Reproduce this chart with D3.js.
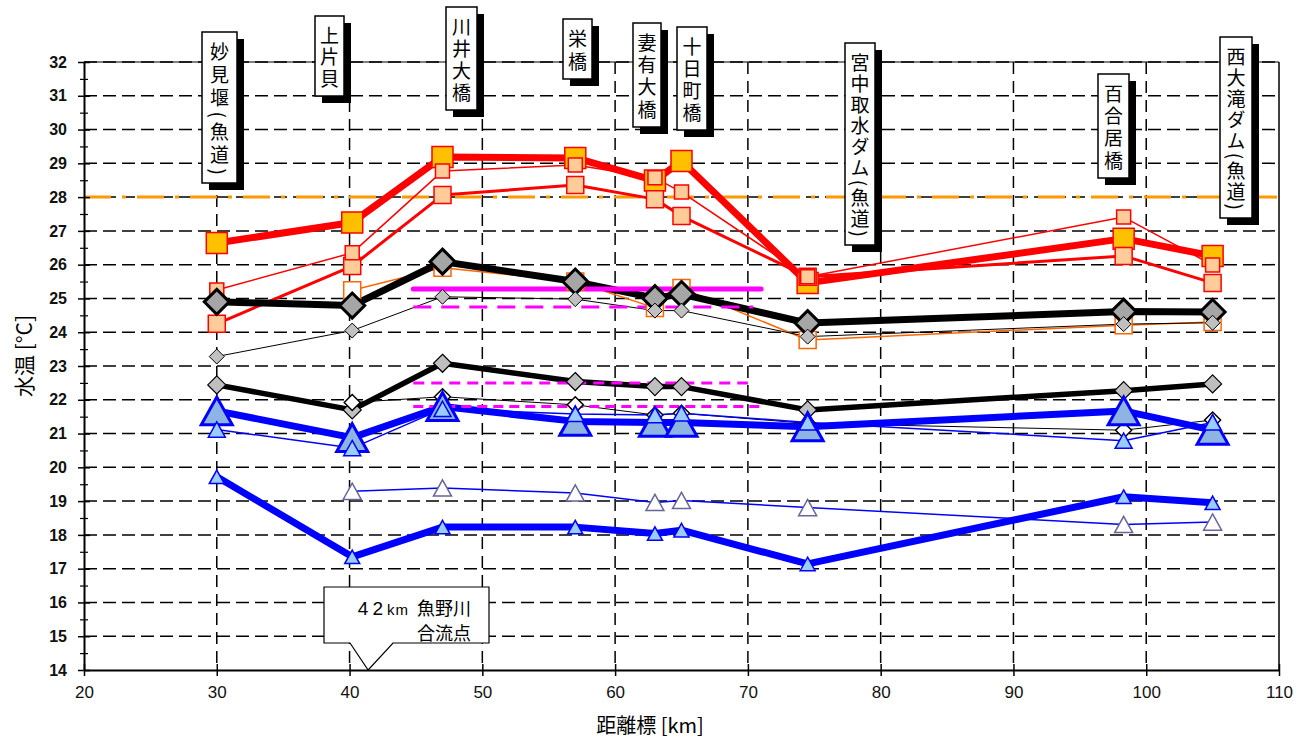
<!DOCTYPE html>
<html>
<head>
<meta charset="utf-8">
<script src="https://cdn.jsdelivr.net/npm/d3@7"></script>
<style>
body { margin: 0; background: #fff; }
text { font-family: "Liberation Sans", Arial, sans-serif; }
.jp { font-family: "Noto Sans CJK JP", sans-serif; }
</style>
</head>
<body>
<div id="main"></div>
<script>
// stations (km marks) along the river
var stationNames = ["妙見堰(魚道)", "上片貝", "川井大橋", "栄橋", "妻有大橋", "十日町橋", "宮中取水ダム(魚道)", "百合居橋", "西大滝ダム(魚道)"];
var stationKm = [30, 40.2, 47, 57, 63, 65, 74.5, 98.3, 105];

// water temperature series, one value per station (null = no data)
var redThick    = [26.64, 27.25, 29.19, 29.16, 28.49, 29.07, 25.46, 26.77, 26.26];
var redMedium   = [24.25, 25.96, 28.06, 28.36, 27.94, 27.44, 25.64, 26.26, 25.46];
var redThin     = [25.25, 26.35, 28.77, 28.95, 28.57, 28.15, 25.64, 27.41, 25.99];
var orangeThin  = [null, 25.24, 25.91, 25.5, 24.72, 25.31, 23.77, 24.21, 24.3];
var blackThick  = [24.9, 24.79, 26.09, 25.5, 25.01, 25.13, 24.27, 24.61, 24.6];
var blackThin   = [23.28, 24.05, 25.05, 24.98, 24.64, 24.64, 23.87, 24.24, 24.28];
var blackMedium = [22.44, 21.7, 23.08, 22.54, 22.39, 22.39, 21.7, 22.27, 22.47];
var blackWhite  = [null, 21.92, 22.09, 21.85, 21.55, 21.6, 21.3, 21.1, 21.4];
var blueThick   = [21.67, 20.88, 21.8, 21.36, 21.33, 21.33, 21.2, 21.67, 21.1];
var blueThin    = [21.12, 20.57, 21.73, 21.58, 21.55, 21.6, 21.33, 20.79, 21.33];
var blueWhite   = [null, 19.29, 19.39, 19.24, 18.96, 19.02, 18.81, 18.31, 18.38];
var blueLow     = [19.72, 17.35, 18.23, 18.23, 18.04, 18.14, 17.14, 19.13, 18.95];

// reference levels
var limitTemp = 28;
var magentaLevels = [25.28, 24.75, 22.5, 21.8];
var magentaFrom = [44.8, 44.8, 44.8, 44.8];
var magentaTo = [71, 70.4, 70, 71];

// axis ticks
var yTicks = d3.range(14, 33, 1);
var yMinorTicks = d3.range(14.5, 32, 1);
var xTicks = d3.range(20, 111, 10);

// label box layout (pixel placement of the callouts)
var boxLayout = [
    { left: 202, top: 32, right: 237, bottom: 183 },
    { left: 315, top: 16, right: 344, bottom: 96 },
    { left: 446, top: 7, right: 477, bottom: 110 },
    { left: 563, top: 19, right: 592, bottom: 79 },
    { left: 633, top: 23, right: 661, bottom: 127 },
    { left: 677, top: 27, right: 707, bottom: 130 },
    { left: 845, top: 43, right: 875, bottom: 245 },
    { left: 1098, top: 74, right: 1129, bottom: 178 },
    { left: 1220, top: 37, right: 1252, bottom: 218 }
];

var width = 1299, height = 742;

var svg = d3.select("#main")
    .append("svg")
    .attr("width", width)
    .attr("height", height);

var x = d3.scaleLinear().domain([20, 110]).range([84, 1279]);
var y = d3.scaleLinear().domain([14, 32]).range([670, 62]);

// horizontal gridlines
svg.append("g").selectAll("line")
    .data(yTicks.slice(1))
    .join("line")
    .attr("x1", x(20)).attr("x2", x(110))
    .attr("y1", function (d) { return y(d); })
    .attr("y2", function (d) { return y(d); })
    .attr("stroke", "#000")
    .attr("stroke-width", 1.5)
    .attr("stroke-dasharray", "13,6");

// vertical gridlines
svg.append("g").selectAll("line")
    .data(xTicks.slice(1, -1))
    .join("line")
    .attr("x1", function (d) { return x(d); })
    .attr("x2", function (d) { return x(d); })
    .attr("y1", y(32)).attr("y2", y(14))
    .attr("stroke", "#000")
    .attr("stroke-width", 1.5)
    .attr("stroke-dasharray", "12,7");

// top + right border
svg.append("line")
    .attr("x1", x(20)).attr("x2", x(110)).attr("y1", y(32)).attr("y2", y(32))
    .attr("stroke", "#000").attr("stroke-width", 1);
svg.append("line")
    .attr("x1", x(110)).attr("x2", x(110)).attr("y1", y(32)).attr("y2", y(14))
    .attr("stroke", "#000").attr("stroke-width", 1.5);

// 28 degree line
svg.append("line")
    .attr("x1", x(20)).attr("x2", x(110))
    .attr("y1", y(limitTemp)).attr("y2", y(limitTemp))
    .attr("stroke", "#ff9900")
    .attr("stroke-width", 3)
    .attr("stroke-dasharray", "27,11,4,11");

// Y axis
var yAxis = svg.append("g")
    .attr("transform", "translate(" + x(20) + ",0)")
    .call(d3.axisLeft(y).tickValues(yTicks).tickSizeOuter(0).tickSizeInner(6).tickPadding(11));
yAxis.select(".domain").attr("stroke-width", 2);
yAxis.selectAll(".tick line").attr("x1", 6).attr("stroke-width", 1.5);
yAxis.selectAll(".tick text")
    .style("font-size", "16px")
    .style("font-weight", "bold")
    .attr("fill", "#111");

var yMinor = svg.append("g")
    .attr("transform", "translate(" + x(20) + ",0)")
    .call(d3.axisLeft(y).tickValues(yMinorTicks).tickSizeOuter(0).tickSizeInner(4).tickFormat(""));
yMinor.select(".domain").remove();
yMinor.selectAll(".tick line").attr("x1", 4).attr("stroke-width", 1.2);

// X axis
var xAxis = svg.append("g")
    .attr("transform", "translate(0," + y(14) + ")")
    .call(d3.axisBottom(x).tickValues(xTicks).tickSizeOuter(0).tickSizeInner(6).tickPadding(10));
xAxis.select(".domain").attr("stroke-width", 2);
xAxis.selectAll(".tick line").attr("y1", -6).attr("stroke-width", 1.5);
xAxis.selectAll(".tick text")
    .style("font-size", "17px")
    .attr("fill", "#111");

// axis titles
svg.append("text")
    .attr("class", "jp")
    .attr("text-anchor", "middle")
    .attr("transform", "translate(32, 356) rotate(-90)")
    .style("font-size", "21px")
    .text("水温 [°C]");

svg.append("text")
    .attr("class", "jp")
    .attr("text-anchor", "middle")
    .attr("x", 650)
    .attr("y", 733)
    .style("font-size", "20px")
    .text("距離標 [km]");

// series styles, built from the arrays above (drawing order)
var seriesList = [
    { values: orangeThin, color: "#ff6600", width: 1.5, shape: "square", size: 17, fill: "#fff", stroke: "#ff6600", sw: 1.5 },
    { values: redThick, color: "#ff0000", width: 7, shape: "square", size: 21, fill: "#ffc000", stroke: "#ff0000", sw: 1.5 },
    { values: redMedium, color: "#ff0000", width: 3, shape: "square", size: 17, fill: "#ffcc99", stroke: "#ff0000", sw: 1.5 },
    { values: redThin, color: "#ff0000", width: 1.5, shape: "square", size: 14, fill: "#ffcc99", stroke: "#ff0000", sw: 1.5 },
    { values: blackThick, color: "#000", width: 7, shape: "diamond", size: 25, fill: "#a6a6a6", stroke: "#000", sw: 3 },
    { values: blackThin, color: "#000", width: 1, shape: "diamond", size: 15, fill: "#c0c0c0", stroke: "#000", sw: 1 },
    { values: blackMedium, color: "#000", width: 5.5, shape: "diamond", size: 18, fill: "#bfbfbf", stroke: "#000", sw: 1.2 },
    { values: blackWhite, color: "#000", width: 1, shape: "diamond", size: 16, fill: "#fff", stroke: "#000", sw: 1.5 },
    { values: blueThick, color: "#0000ff", width: 7, shape: "triangle", size: 31, fill: "#8db4e2", stroke: "#0000ff", sw: 3 },
    { values: blueThin, color: "#0000ff", width: 1.5, shape: "triangle", size: 17, fill: "#99ccff", stroke: "#0000ff", sw: 1.5 },
    { values: blueWhite, color: "#0000ff", width: 1.5, shape: "triangle", size: 18, fill: "#fff", stroke: "#666699", sw: 1.5 },
    { values: blueLow, color: "#0000ff", width: 7, shape: "triangle", size: 15, fill: "#99ccff", stroke: "#0000ff", sw: 1.5 }
];

var line = d3.line()
    .defined(function (d) { return d[1] != null; })
    .x(function (d) { return x(d[0]); })
    .y(function (d) { return y(d[1]); });

function toPoints(values) {
    return stationKm.map(function (km, i) { return [km, values[i]]; });
}

// lines first
svg.append("g").selectAll("path")
    .data(seriesList)
    .join("path")
    .attr("d", function (s) { return line(toPoints(s.values)); })
    .attr("fill", "none")
    .attr("stroke", function (s) { return s.color; })
    .attr("stroke-width", function (s) { return s.width; })
    .attr("stroke-linejoin", "round");

// magenta reference segments
var magentaDash = [null, "18,10", "11,7", "10,6"];
var magentaWidth = [5, 3, 3, 3];
svg.append("g").selectAll("line")
    .data(magentaLevels)
    .join("line")
    .attr("x1", function (d, i) { return x(magentaFrom[i]); })
    .attr("x2", function (d, i) { return x(magentaTo[i]); })
    .attr("y1", function (d) { return y(d); })
    .attr("y2", function (d) { return y(d); })
    .attr("stroke", "#ff00ff")
    .attr("stroke-width", function (d, i) { return magentaWidth[i]; })
    .attr("stroke-linecap", function (d, i) { return i == 0 ? "round" : "butt"; })
    .attr("stroke-dasharray", function (d, i) { return magentaDash[i]; });

function markerPath(shape, s) {
    var h = s / 2;
    if (shape == "square") {
        return "M" + -h + "," + -h + "H" + h + "V" + h + "H" + -h + "Z";
    }
    if (shape == "diamond") {
        return "M0," + -h + "L" + h + ",0L0," + h + "L" + -h + ",0Z";
    }
    var th = s * 0.9 / 2;
    return "M0," + -th + "L" + h + "," + th + "L" + -h + "," + th + "Z";
}

// markers on top
seriesList.forEach(function (s) {
    svg.append("g").selectAll("path")
        .data(toPoints(s.values).filter(function (d) { return d[1] != null; }))
        .join("path")
        .attr("transform", function (d) { return "translate(" + x(d[0]) + "," + y(d[1]) + ")"; })
        .attr("d", markerPath(s.shape, s.size))
        .attr("fill", s.fill)
        .attr("stroke", s.stroke)
        .attr("stroke-width", s.sw)
        .attr("stroke-linejoin", "miter");
});

// station label boxes with shadow
var boxes = svg.append("g").selectAll("g")
    .data(stationNames)
    .join("g");

boxes.append("rect")
    .attr("x", function (d, i) { return boxLayout[i].left + 7; })
    .attr("y", function (d, i) { return boxLayout[i].top + 7; })
    .attr("width", function (d, i) { return boxLayout[i].right - boxLayout[i].left; })
    .attr("height", function (d, i) { return boxLayout[i].bottom - boxLayout[i].top; })
    .attr("fill", "#000");

boxes.append("rect")
    .attr("x", function (d, i) { return boxLayout[i].left; })
    .attr("y", function (d, i) { return boxLayout[i].top; })
    .attr("width", function (d, i) { return boxLayout[i].right - boxLayout[i].left; })
    .attr("height", function (d, i) { return boxLayout[i].bottom - boxLayout[i].top; })
    .attr("fill", "#fff")
    .attr("stroke", "#000")
    .attr("stroke-width", 1.5);

boxes.append("text")
    .attr("class", "jp")
    .attr("x", function (d, i) { return (boxLayout[i].left + boxLayout[i].right) / 2; })
    .attr("y", function (d, i) { return boxLayout[i].top + 10; })
    .attr("writing-mode", "vertical-rl")
    .style("font-size", "19px")
    .text(function (d) { return d; })
    .each(function (d, i) {
        // spread the characters to fill the box
        var avail = boxLayout[i].bottom - boxLayout[i].top - 18;
        var len = this.getComputedTextLength();
        var n = d.length;
        var ls = (avail - len) / (n - 1);
        d3.select(this).style("letter-spacing", ls + "px");
    });

// confluence callout
var cx = x(41.4);
var callout = svg.append("g");
callout.append("path")
    .attr("d", "M324,587H489V643H393L" + cx + "," + y(14) + "L350,643H324Z")
    .attr("fill", "#fff")
    .attr("stroke", "#000")
    .attr("stroke-width", 1.2);

var t1 = callout.append("text")
    .attr("class", "jp")
    .attr("x", 471)
    .attr("y", 615)
    .attr("text-anchor", "end")
    .style("font-size", "18px");
t1.append("tspan").attr("font-family", "Liberation Sans").style("font-size", "19px").style("letter-spacing", "4px").text("42");
t1.append("tspan").attr("font-family", "Liberation Sans").style("font-size", "15px").style("letter-spacing", "1px").text("km");
t1.append("tspan").attr("dx", 8).text("魚野川");

callout.append("text")
    .attr("class", "jp")
    .attr("x", 471)
    .attr("y", 640)
    .attr("text-anchor", "end")
    .style("font-size", "18px")
    .text("合流点");
</script>
</body>
</html>
